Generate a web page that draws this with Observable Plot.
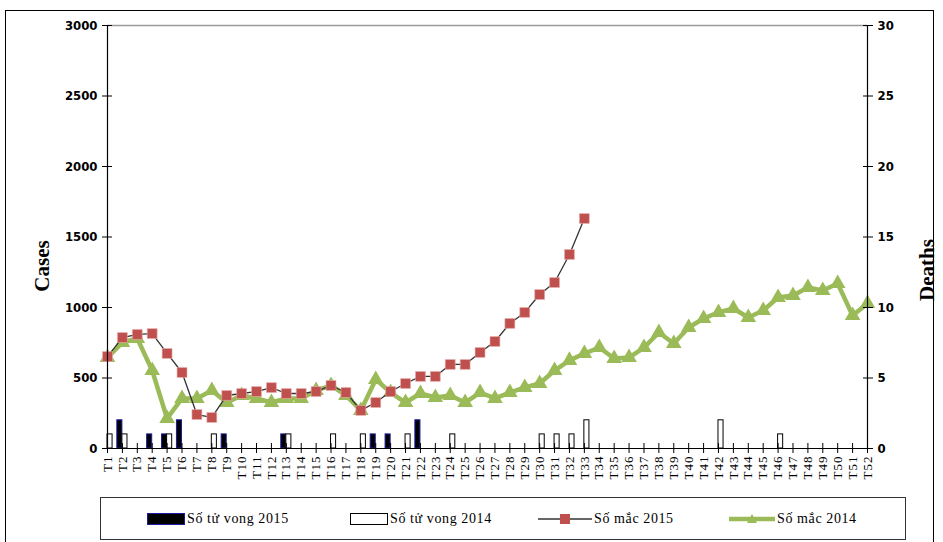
<!DOCTYPE html>
<html><head><meta charset="utf-8">
<script src="https://cdn.jsdelivr.net/npm/d3@7"></script>
<script src="https://cdn.jsdelivr.net/npm/@observablehq/plot@0.6"></script>
<style>
body{margin:0;background:#fff;}
#wrap{position:relative;width:943px;height:542px;overflow:hidden;font-family:"Liberation Serif","Times New Roman",serif;color:#000;}
#frame{position:absolute;left:5px;top:10px;width:929px;height:560px;border:1.5px solid #000;box-sizing:border-box;}
#chart{position:absolute;left:0;top:0;}
#legend{position:absolute;left:100px;top:497px;width:806px;height:43px;border:1.5px solid #333;box-sizing:border-box;}
.item{position:absolute;top:0;height:100%;display:flex;align-items:center;font-size:14px;letter-spacing:0.6px;white-space:nowrap;}
.ytitle{position:absolute;font-size:21px;font-weight:bold;white-space:nowrap;transform:translate(-50%,-50%) rotate(-90deg);}
</style></head>
<body><div id="wrap"><div id="frame"></div><div id="chart"></div>
<div class="ytitle" style="left:42px;top:266px;">Cases</div>
<div class="ytitle" style="left:927px;top:270px;">Deaths</div>
<div id="legend"></div></div>
<script>
const weekLabels = ["T1","T2","T3","T4","T5","T6","T7","T8","T9","T10","T11","T12","T13","T14","T15","T16","T17","T18","T19","T20","T21","T22","T23","T24","T25","T26","T27","T28","T29","T30","T31","T32","T33","T34","T35","T36","T37","T38","T39","T40","T41","T42","T43","T44","T45","T46","T47","T48","T49","T50","T51","T52"];
const cases2015 = [652,787,809,815,674,539,241,220,376,390,404,432,390,390,404,447,397,270,326,404,461,511,511,596,596,681,759,887,965,1092,1177,1376,1631];
const cases2014 = [645,752,780,553,213,355,355,411,326,376,355,326,355,355,411,447,376,270,490,397,326,390,362,376,326,397,355,397,433,461,553,625,674,716,638,645,716,823,745,858,922,965,993,929,979,1071,1085,1142,1121,1170,943,1028];
const deaths2015 = [0,2,0,1,1,2,0,0,1,0,0,0,1,0,0,0,0,0,1,1,0,2,0,0,0,0,0,0,0,0,0,0,0];
const deaths2014 = [1,1,0,0,1,0,0,1,0,0,0,0,1,0,0,1,0,1,0,0,1,0,0,1,0,0,0,0,0,1,1,1,2,0,0,0,0,0,0,0,0,2,0,0,0,1,0,0,0,0,0,0];
const casesTicks = [0,500,1000,1500,2000,2500,3000];
const legendLabels = ["Số tử vong 2015","Số tử vong 2014","Số mắc 2015","Số mắc 2014"];

const casesPerDeath = 100; // right axis 0–30 maps onto left axis 0–3000
const rows = weekLabels.map((t, k) => ({
  i: k + 1, t,
  c15: cases2015[k], c14: cases2014[k],
  d15: deaths2015[k] ?? 0, d14: deaths2014[k] ?? 0
}));
const bw = 0.34;
const serif = "Liberation Serif, Times New Roman, serif";
const narrow = "DejaVu Sans Condensed, Liberation Sans Narrow, Arial Narrow, sans-serif";

const chart = Plot.plot({
  width: 943, height: 490,
  marginLeft: 107, marginRight: 76, marginTop: 25, marginBottom: 42,
  x: {type: "linear", domain: [1, 52]},
  y: {domain: [0, 3000]},
  style: {background: "transparent", color: "#000", fontFamily: serif},
  marks: [
    Plot.ruleY([3000], {stroke: "#9a9a9a", strokeWidth: 1.5}),
    Plot.rect(rows.filter(d => d.d15 > 0), {x1: d => d.i - bw, x2: d => d.i, y1: d => 0, y2: d => d.d15 * casesPerDeath, fill: "#000", stroke: "#1c1ca0", strokeWidth: 1}),
    Plot.rect(rows.filter(d => d.d14 > 0), {x1: d => d.i, x2: d => d.i + bw, y1: d => 0, y2: d => d.d14 * casesPerDeath, fill: "#fff", stroke: "#000", strokeWidth: 1}),
    Plot.line(rows, {x: "i", y: "c14", stroke: "#9bbb59", strokeWidth: 4.5, strokeLinejoin: "round"}),
    Plot.dot(rows, {x: "i", y: "c14", symbol: "triangle", r: 5.8, fill: "#9bbb59", stroke: "none"}),
    Plot.line(rows.filter(d => d.c15 != null), {x: "i", y: "c15", stroke: "#333", strokeWidth: 1.3}),
    Plot.dot(rows.filter(d => d.c15 != null), {x: "i", y: "c15", symbol: "square", r: 5.6, fill: "#c0504d", stroke: "#e8b0ae", strokeWidth: 0.6}),
    Plot.ruleX([1], {stroke: "#000", strokeWidth: 1.2}),
    Plot.ruleX([52], {stroke: "#000", strokeWidth: 1.2}),
    Plot.ruleY([0], {stroke: "#000", strokeWidth: 1.2}),
    Plot.axisX({ticks: rows.map(d => d.i), tickFormat: i => weekLabels[i - 1], tickRotate: -90, tickSize: 10, dy: -5, tickPadding: 2, fontSize: 13, fontFamily: serif, label: null}),
    Plot.axisY({anchor: "left", ticks: casesTicks, tickFormat: d => String(d), tickSize: 10, dx: 5, tickPadding: 5, label: null, fontSize: 13, fontWeight: "bold", fontFamily: narrow}),
    Plot.axisY({anchor: "right", ticks: casesTicks, tickFormat: d => String(d / casesPerDeath), tickSize: 10, dx: -5, tickPadding: 5, label: null, fontSize: 13, fontWeight: "bold", fontFamily: narrow})
  ]
});
d3.select(chart).selectAll('g[aria-label="x-axis tick label"] text').style("letter-spacing", "1px");
document.getElementById("chart").appendChild(chart);

// legend
const lg = document.getElementById("legend");
const sw = [
  {left: 46, svg: `<svg width="38" height="12"><rect x="0.5" y="0.5" width="37" height="11" fill="#000" stroke="#1c1ca0"/></svg>`},
  {left: 249, svg: `<svg width="38" height="12"><rect x="0.5" y="0.5" width="37" height="11" fill="#fff" stroke="#000"/></svg>`},
  {left: 437, svg: `<svg width="54" height="12"><line x1="0" y1="6" x2="54" y2="6" stroke="#333" stroke-width="1.3"/><rect x="22" y="1" width="10" height="10" fill="#c0504d"/></svg>`},
  {left: 628, svg: `<svg width="46" height="14"><line x1="0" y1="7" x2="46" y2="7" stroke="#9bbb59" stroke-width="4.5"/><path d="M23,2 L28,11 L18,11 Z" fill="#9bbb59"/></svg>`}
];
sw.forEach((s, k) => {
  const el = document.createElement("div");
  el.className = "item";
  el.style.left = s.left + "px";
  el.innerHTML = s.svg + `<span style="margin-left:2px">${legendLabels[k]}</span>`;
  lg.appendChild(el);
});
</script>
</body></html>
